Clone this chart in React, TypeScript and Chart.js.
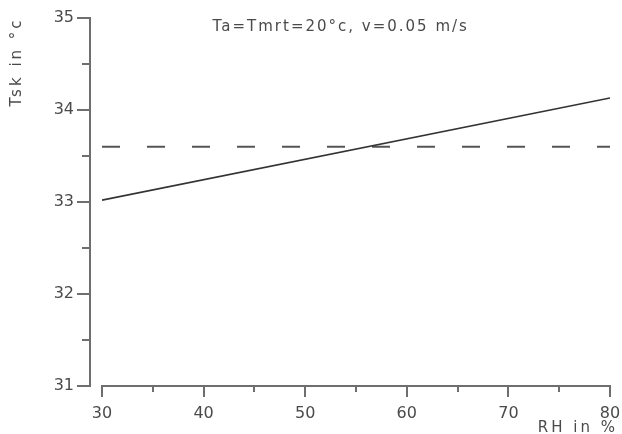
import React, { useEffect, useRef } from "react";
import { Chart, registerables } from "chart.js";

Chart.register(...registerables);

const rhValues = [30, 80];
const tskValues = [33.02, 34.13];
const refValues = [33.6, 33.6];
const xMajorTicks = [30, 40, 50, 60, 70, 80];
const xMinorTicks = [35, 45, 55, 65, 75];
const yMajorTicks = [31, 32, 33, 34, 35];
const yMinorTicks = [31.5, 32.5, 33.5, 34.5];
const titleText = "Ta=Tmrt=20°c, v=0.05 m/s";
const xLabel = "RH in %";
const yLabel = "Tsk in °c";

const FONT = "'DejaVu Sans', sans-serif";
const AXIS_COLOR = "#6e6e6e";
const TEXT_COLOR = "#4a4a4a";

const axesPlugin = {
  id: "customAxes",
  afterDraw(chart: any) {
    const { ctx, chartArea, scales } = chart;
    const x = scales.x;
    const y = scales.y;
    ctx.save();
    ctx.strokeStyle = AXIS_COLOR;
    ctx.lineWidth = 2;
    ctx.lineCap = "butt";
    const ax = chartArea.left - 12;
    // y axis
    ctx.beginPath();
    ctx.moveTo(ax, y.getPixelForValue(31) + 1);
    ctx.lineTo(ax, y.getPixelForValue(35) - 1);
    ctx.stroke();
    yMajorTicks.forEach((v) => {
      const py = Math.round(y.getPixelForValue(v));
      ctx.beginPath();
      ctx.moveTo(ax - 13, py);
      ctx.lineTo(ax, py);
      ctx.stroke();
    });
    yMinorTicks.forEach((v) => {
      const py = Math.round(y.getPixelForValue(v));
      ctx.beginPath();
      ctx.moveTo(ax - 8, py);
      ctx.lineTo(ax, py);
      ctx.stroke();
    });
    // x axis
    const by = Math.round(chartArea.bottom);
    ctx.beginPath();
    ctx.moveTo(x.getPixelForValue(30) - 1, by);
    ctx.lineTo(x.getPixelForValue(80) + 1, by);
    ctx.stroke();
    xMajorTicks.forEach((v) => {
      const px = Math.round(x.getPixelForValue(v));
      ctx.beginPath();
      ctx.moveTo(px, by);
      ctx.lineTo(px, by + 11);
      ctx.stroke();
    });
    xMinorTicks.forEach((v) => {
      const px = Math.round(x.getPixelForValue(v));
      ctx.beginPath();
      ctx.moveTo(px, by);
      ctx.lineTo(px, by + 6);
      ctx.stroke();
    });
    // texts
    ctx.fillStyle = TEXT_COLOR;
    ctx.font = `15px ${FONT}`;
    try {
      (ctx as any).letterSpacing = "2px";
    } catch (e) {}
    ctx.textAlign = "center";
    ctx.textBaseline = "middle";
    ctx.fillText(titleText, chartArea.left + 0.47 * (chartArea.right - chartArea.left), 27);

    try {
      (ctx as any).letterSpacing = "3px";
    } catch (e) {}
    ctx.textAlign = "right";
    ctx.fillText(xLabel, chartArea.right + 8, 428);

    ctx.translate(17, chartArea.top + 44);
    ctx.rotate(-Math.PI / 2);
    ctx.textAlign = "center";
    ctx.fillText(yLabel, 0, 0);
    ctx.restore();
  },
};

export default function App() {
  const ref = useRef<HTMLCanvasElement>(null);
  useEffect(() => {
    document.body.style.margin = "0";
    const canvas = ref.current!;
    const chart = new Chart(canvas, {
      type: "line",
      data: {
        labels: rhValues,
        datasets: [
          {
            data: rhValues.map((r, i) => ({ x: r, y: tskValues[i] })),
            borderColor: "#333333",
            borderWidth: 1.6,
            pointRadius: 0,
            fill: false,
          },
          {
            data: rhValues.map((r, i) => ({ x: r, y: refValues[i] })),
            borderColor: "#555555",
            borderWidth: 2,
            borderDash: [18, 27],
            pointRadius: 0,
            fill: false,
          },
        ],
      },
      options: {
        responsive: false,
        animation: false,
        layout: { padding: { top: 18, right: 12, left: 0, bottom: 0 } },
        plugins: {
          legend: { display: false },
          tooltip: { enabled: false },
          title: { display: false },
        },
        scales: {
          x: {
            type: "linear",
            min: 30,
            max: 80,
            grid: { display: false, drawTicks: false },
            border: { display: false },
            ticks: {
              stepSize: 10,
              padding: 18,
              color: TEXT_COLOR,
              font: { family: FONT, size: 16 },
              maxRotation: 0,
            },
            afterFit: (s: any) => {
              s.height = 48;
              s.paddingLeft = 0;
              s.paddingRight = 0;
            },
          },
          y: {
            type: "linear",
            min: 31,
            max: 35,
            grid: { display: false, drawTicks: false },
            border: { display: false },
            ticks: {
              stepSize: 1,
              padding: 28,
              color: TEXT_COLOR,
              font: { family: FONT, size: 16 },
            },
            afterFit: (s: any) => {
              s.width = 102;
              s.paddingTop = 0;
              s.paddingBottom = 0;
            },
          },
        },
      },
      plugins: [axesPlugin],
    } as any);
    return () => chart.destroy();
  }, []);
  return (
    <div style={{ width: 622, height: 434, background: "#fff" }}>
      <canvas ref={ref} width={622} height={434} />
    </div>
  );
}
